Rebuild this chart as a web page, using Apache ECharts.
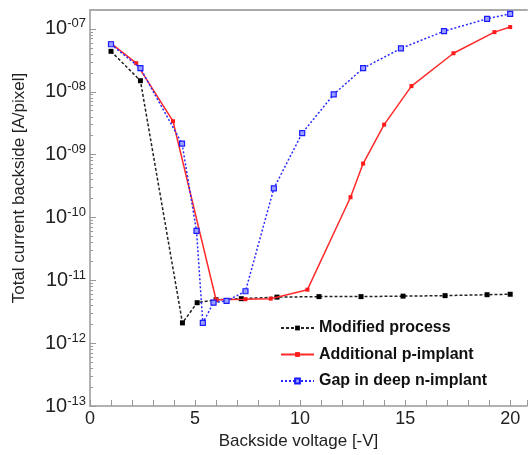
<!DOCTYPE html>
<html>
  <head>
    <meta charset="utf-8" />
    <title>Backside current</title>
    <script src="https://cdn.jsdelivr.net/npm/echarts@6/dist/echarts.min.js"></script>
  </head>
  <body style="margin:0">
    <div id="main" style="width: 530px;height:455px;"></div>
    <script type="text/javascript">
      // series values [voltage, current]
      var modified = [[1, 4.4e-8], [2.4, 1.5e-8], [4.4, 2.1e-12], [5.1, 4.4e-12], [6.0, 4.9e-12],
        [7.2, 5.1e-12], [8.9, 5.4e-12], [10.9, 5.5e-12], [12.9, 5.5e-12], [14.9, 5.6e-12],
        [16.9, 5.7e-12], [18.9, 5.9e-12], [20, 6.0e-12]];
      var pImplant = [[1, 5.9e-8], [2.2, 2.85e-8], [3.95, 3.4e-9], [6.0, 4.9e-12], [7.4, 5.0e-12],
        [8.6, 5.1e-12], [10.35, 7.1e-12], [12.4, 2.1e-10], [13.0, 7.2e-10], [14.0, 3.0e-9],
        [15.3, 1.23e-8], [17.3, 4.1e-8], [19.25, 8.9e-8], [20, 1.07e-7]];
      var gapImplant = [[1, 5.7e-8], [2.4, 2.37e-8], [4.38, 1.5e-9], [5.07, 6.1e-11], [5.37, 2.1e-12],
        [5.88, 4.4e-12], [6.5, 4.7e-12], [7.4, 6.7e-12], [8.75, 2.9e-10], [10.1, 2.2e-9],
        [11.6, 9.1e-9], [13.0, 2.37e-8], [14.8, 4.9e-8], [16.85, 9.2e-8], [18.9, 1.45e-7], [20, 1.74e-7]];
      var seriesNames = ['Modified process', 'Additional p-implant', 'Gap in deep n-implant'];
      var xLabels = [0, 5, 10, 15, 20];
      var yLabels = [1e-13, 1e-12, 1e-11, 1e-10, 1e-9, 1e-8, 1e-7];

      // minor log ticks 2..9 per decade
      var minorTicks = [];
      for (var e = -13; e <= -7; e++) {
        for (var m = 2; m <= 9; m++) {
          var v = m * Math.pow(10, e);
          if (v < 2e-7) minorTicks.push(v);
        }
      }

      var font = 'Liberation Sans, Arial, sans-serif';
      var xMax = 20.8;
      var myChart = echarts.init(document.getElementById('main'));
      var option = {
        animation: false,
        textStyle: {fontFamily: font},
        // second grid overlays the first, only to carry the minor y ticks on the left
        // right edge pushed just past the canvas, the plot is open on that side
        grid: [{left: 90, right: -2, top: 10, bottom: 49}, {left: 90, right: -2, top: 10, bottom: 49}],
        legend: {
          data: seriesNames,
          orient: 'vertical',
          left: 280,
          top: 320,
          padding: 0,
          itemWidth: 33,
          itemHeight: 6,
          itemGap: 10.5,
          textStyle: {fontSize: 16, fontWeight: 'bold', color: '#111', fontFamily: font}
        },
        xAxis: [{
          type: 'value',
          min: 0,
          max: xMax,
          interval: 1,
          name: 'Backside voltage [-V]',
          nameLocation: 'middle',
          nameGap: 24,
          nameTextStyle: {fontSize: 17, color: '#222', padding: [0, 20, 0, 0]},
          axisLine: {lineStyle: {color: '#999', width: 1.5}},
          axisTick: {inside: true, length: 6, lineStyle: {color: '#999'}},
          axisLabel: {
            fontSize: 18, color: '#222', margin: 4,
            formatter: function (v) { return xLabels.indexOf(v) >= 0 ? String(v) : ''; }
          },
          splitLine: {show: false}
        }, {
          type: 'value',
          position: 'top',
          min: 0,
          max: xMax,
          axisLine: {show: true, onZero: false, lineStyle: {color: '#aaa', width: 2}},
          axisTick: {show: false},
          axisLabel: {show: false},
          splitLine: {show: false}
        }, {
          gridIndex: 1,
          type: 'value',
          min: 0,
          max: xMax,
          show: false
        }],
        yAxis: [{
          type: 'log',
          min: 1e-13,
          max: 2e-7,
          name: 'Total current backside [A/pixel]',
          nameLocation: 'middle',
          nameGap: 62,
          nameTextStyle: {fontSize: 17, color: '#222', padding: [0, 0, 0, 40]},
          axisLine: {show: true, lineStyle: {color: '#999', width: 1.5}},
          axisTick: {inside: true, length: 6, lineStyle: {color: '#999'}},
          axisLabel: {
            margin: 4,
            showMaxLabel: false,
            formatter: function (v) {
              var idx = -1;
              for (var i = 0; i < yLabels.length; i++) {
                if (Math.abs(Math.log10(v) - Math.log10(yLabels[i])) < 1e-6) idx = i;
              }
              if (idx < 0) return '';
              var ex = Math.round(Math.log10(yLabels[idx]));
              var s = ex < 0 ? '-' : '';
              var a = Math.abs(ex);
              return '{b|10}{s|' + s + (a < 10 ? '0' + a : a) + '}';
            },
            rich: {
              b: {fontSize: 20, color: '#222', fontFamily: font},
              s: {fontSize: 13, color: '#222', fontFamily: font, verticalAlign: 'top', padding: [0, 0, 10, 0]}
            }
          },
          splitLine: {show: false}
        }, {
          gridIndex: 1,
          type: 'log',
          min: 1e-13,
          max: 2e-7,
          position: 'left',
          axisLine: {show: false},
          axisTick: {show: true, inside: true, length: 3, customValues: minorTicks, lineStyle: {color: '#999'}},
          axisLabel: {show: false},
          splitLine: {show: false}
        }],
        series: [{
          name: seriesNames[0],
          type: 'line',
          data: modified,
          symbol: 'rect',
          symbolSize: 5,
          itemStyle: {color: '#000'},
          lineStyle: {color: '#222', width: 1.5, type: [3, 2]},
          z: 3
        }, {
          name: seriesNames[1],
          type: 'line',
          data: pImplant,
          symbol: 'rect',
          symbolSize: 4,
          itemStyle: {color: '#ff1a1a'},
          lineStyle: {color: '#ff2a2a', width: 1.5},
          z: 4
        }, {
          name: seriesNames[2],
          type: 'line',
          data: gapImplant,
          symbol: 'rect',
          symbolSize: 5,
          itemStyle: {color: '#9aa0ff', borderColor: '#1a1aff', borderWidth: 1.2},
          lineStyle: {color: '#2a2aff', width: 1.5, type: [2, 2]},
          z: 5
        }]
      };
      myChart.setOption(option);
    </script>
  </body>
</html>
